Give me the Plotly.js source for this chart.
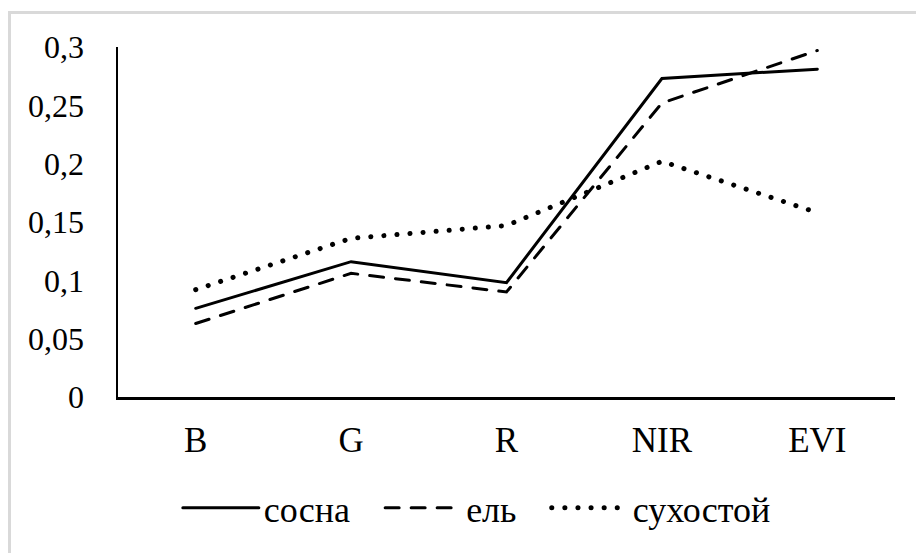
<!DOCTYPE html>
<html>
<head>
<meta charset="utf-8">
<script src="https://cdn.plot.ly/plotly-3.0.1.min.js"></script>
<style>
  html, body { margin: 0; padding: 0; background: #fff; overflow: hidden; }
  #frame { position: absolute; left: 8px; top: 11px; width: 1000px; height: 700px; border: 3px solid #d9d9d9; box-sizing: border-box; pointer-events: none; z-index: 5; }
  #chart { position: absolute; left: 0; top: 0; width: 916px; height: 553px; }
  .js-line { stroke-linecap: round; }
</style>
</head>
<body>
<div id="chart"></div>
<div id="frame"></div>
<script>
const categories = ["B", "G", "R", "NIR", "EVI"];
const seriesNames = ["сосна", "ель", "сухостой"];
const sosna = [0.076, 0.116, 0.098, 0.273, 0.281];
const el = [0.063, 0.106, 0.090, 0.252, 0.297];
const sukhostoy = [0.092, 0.136, 0.147, 0.202, 0.158];
const yTicks = [0, 0.05, 0.1, 0.15, 0.2, 0.25, 0.3];
const yTickLabels = ["0", "0,05", "0,1", "0,15", "0,2", "0,25", "0,3"];

const fontFam = "'Liberation Serif', 'Times New Roman', serif";
const pad = "\u00a0\u00a0\u2009";
const traces = [
  { x: categories, y: sosna, name: seriesNames[0] + pad, type: "scatter", mode: "lines",
    line: { color: "#000", width: 3 } },
  { x: categories, y: el, name: seriesNames[1] + pad, type: "scatter", mode: "lines",
    line: { color: "#000", width: 3, dash: "14px,12px" } },
  { x: categories, y: sukhostoy, name: seriesNames[2], type: "scatter", mode: "lines",
    line: { color: "#000", width: 5, dash: "0.1px,13px" } }
];

const layout = {
  width: 916, height: 553,
  margin: { l: 118, r: 21, t: 47, b: 156 },
  paper_bgcolor: "#fff", plot_bgcolor: "#fff",
  font: { family: fontFam, size: 34, color: "#000" },
  showlegend: true,
  legend: { orientation: "h", x: 0.077, xanchor: "left", y: -0.317, yanchor: "middle",
    itemwidth: 76, font: { family: fontFam, size: 36, color: "#000" }, bgcolor: "rgba(0,0,0,0)" },
  xaxis: { type: "category", range: [-0.5, 4.5], showgrid: false, zeroline: false,
    showline: true, linecolor: "#000", linewidth: 2.5, ticks: "", ticklabelstandoff: 10,
    tickfont: { family: fontFam, size: 35, color: "#000" }, fixedrange: true },
  yaxis: { range: [0, 0.3], showgrid: false, zeroline: false, showline: true,
    linecolor: "#000", linewidth: 2.5, ticks: "", tickmode: "array",
    tickvals: yTicks, ticktext: yTickLabels, ticklabelstandoff: 25,
    tickfont: { family: fontFam, size: 32, color: "#000" }, fixedrange: true }
};

Plotly.newPlot("chart", traces, layout, { staticPlot: true, displayModeBar: false });
</script>
</body>
</html>
